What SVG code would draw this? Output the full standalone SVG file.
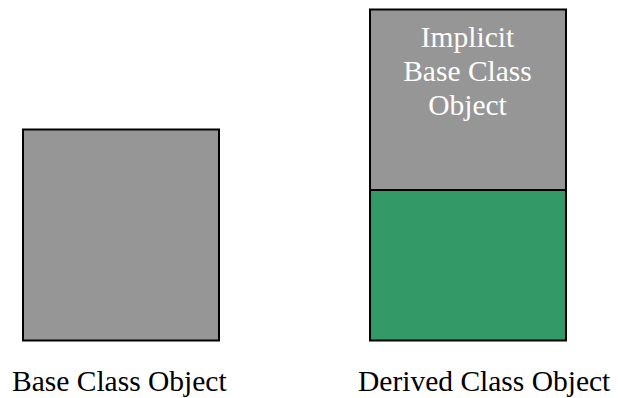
<svg xmlns="http://www.w3.org/2000/svg" width="618" height="398" viewBox="0 0 618 398">
<style>
.box{stroke:#000;stroke-width:2}
.gray{fill:#969696}
.green{fill:#339966}
.in{font-family:"Liberation Serif",serif;font-size:29.5px;fill:#fff;text-anchor:middle}
.lbl{font-family:"Liberation Serif",serif;font-size:29.5px;fill:#000}
</style>
<rect width="618" height="398" fill="#fff"/>
<g id="base-object">
<rect class="box gray" x="23" y="129.5" width="196" height="211"/>
</g>
<g id="derived-object">
<rect class="box gray" x="370" y="9.5" width="196" height="180.5"/>
<rect class="box green" x="370" y="190" width="196" height="150.5"/>
<text class="in" x="467.5" y="46.5">Implicit</text>
<text class="in" x="467.5" y="80.5">Base Class</text>
<text class="in" x="467.5" y="114.5">Object</text>
</g>
<g id="connectors"></g>
<text class="lbl" x="12" y="391">Base Class Object</text>
<text class="lbl" x="358" y="391">Derived Class Object</text>
</svg>
